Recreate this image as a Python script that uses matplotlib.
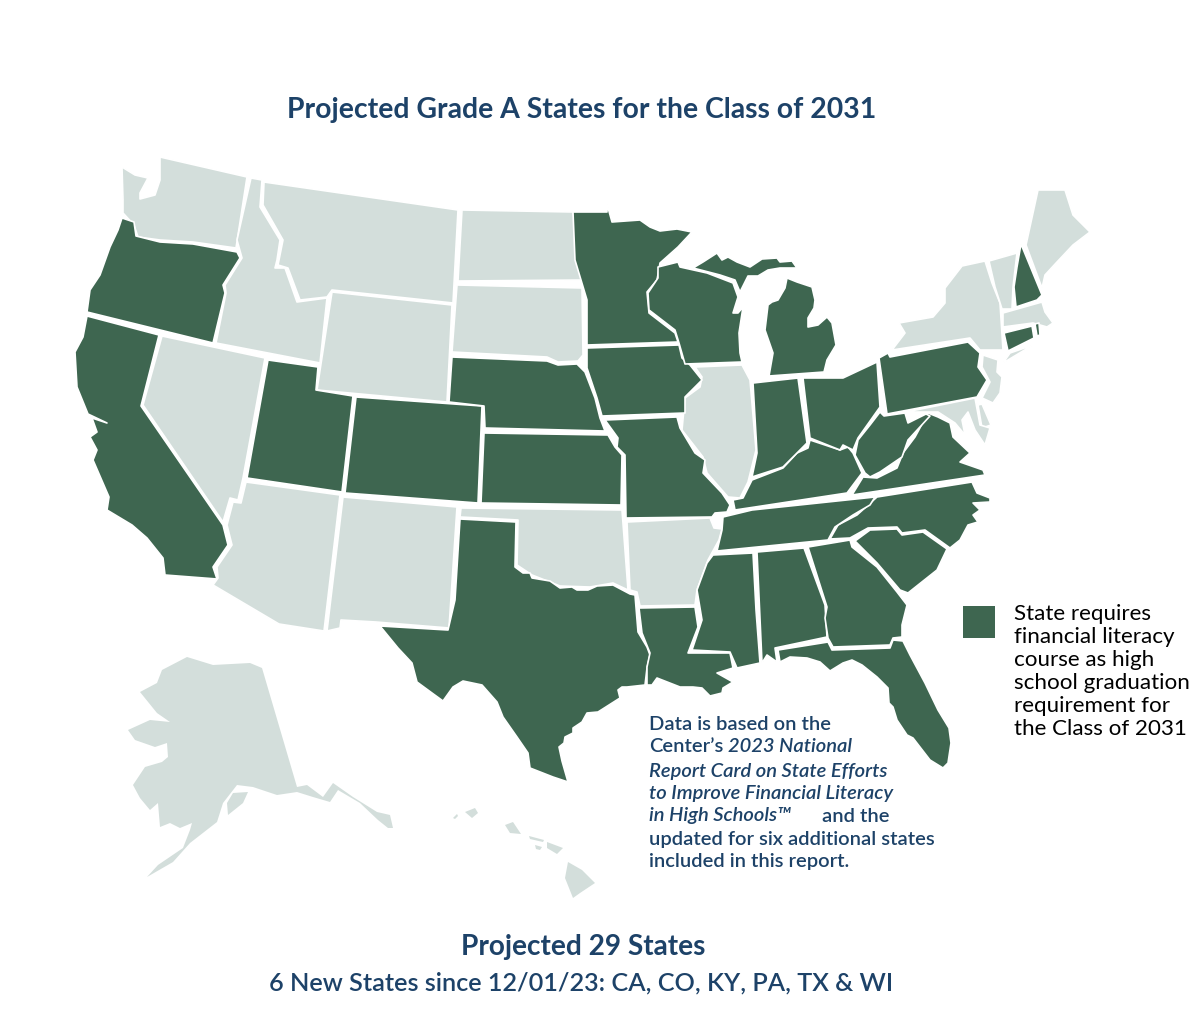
import matplotlib
matplotlib.use("Agg")
import matplotlib.pyplot as plt
from matplotlib.patches import Polygon, Rectangle

plt.rcParams['font.family'] = ['Lato', 'DejaVu Sans']

GREEN = "#3e6650"
GREY = "#d3dedb"
NAVY = "#1d4268"

# state outlines (pixels of the 1200x1017 image)
WA = [(160,157),(247,177),(236,248),(193,242),(160,240),(138,237),(134,225),(123,213),(123,200),(122,167),(135,175),(148,178),(140,193),(140,199),(155,195),(160,180)]
OR = [(122,218),(134,222),(136,236),(160,242),(193,244),(237,252),(240,258),(223,285),(225,293),(213,343),(87,312),(90,290),(100,275),(110,247),(118,230)]
CA = [(87,316),(159,335),(141,406),(223,525),(228,545),(213,567),(217,579),(165,575),(163,558),(147,538),(132,525),(107,510),(109,497),(93,460),(97,450),(90,437),(97,432),(92,418),(107,423),(88,414),(77,387),(75,352),(83,337)]
NV = [(162,336),(265,358),(243,478),(238,500),(230,498),(223,522),(143,405)]
ID = [(251,178),(262,180),(260,207),(280,240),(277,260),(275,268),(285,268),(297,302),(327,298),(320,363),(216,343),(226,293),(225,285),(242,258),(237,240)]
MT = [(264,182),(458,210),(453,303),(332,290),(327,297),(300,300),(288,268),(278,265),(283,240),(263,205)]
WY = [(332,292),(452,305),(447,402),(317,390)]
UT = [(268,360),(318,367),(316,390),(353,396),(342,492),(247,478)]
CO = [(356,397),(482,406),(478,503),(345,493)]
AZ = [(246,482),(340,495),(324,631),(279,624),(213,585),(218,578),(217,567),(232,545),(227,525),(233,502),(241,503)]
NM = [(343,497),(457,507),(449,628),(376,622),(341,620),(340,628),(327,631)]
TX = [(460,519),(516,522),(515,567),(523,573),(530,573),(532,578),(550,581),(560,588),(572,587),(577,590),(588,590),(597,586),(613,585),(630,594),(635,595),(638,632),(647,647),(650,655),(647,668),(645,685),(627,687),(622,687),(618,690),(620,698),(598,712),(587,713),(582,722),(573,728),(573,733),(565,737),(564,743),(559,747),(562,761),(568,782),(553,777),(530,768),(528,753),(517,737),(503,717),(497,702),(482,685),(463,681),(453,687),(443,701),(432,693),(417,682),(412,663),(398,648),(380,626),(448,630),(455,600)]
OK = [(461,508),(622,510),(628,590),(613,583),(590,587),(560,586),(532,575),(517,565),(518,520),(460,517)]
KS = [(484,433),(608,435),(615,447),(622,455),(621,505),(481,503)]
NE = [(452,357),(547,361),(558,365),(577,364),(585,372),(595,398),(600,418),(605,431),(485,428),(484,406),(449,402)]
SD = [(457,285),(582,288),(583,355),(578,361),(558,362),(547,357),(452,352)]
ND = [(462,210),(573,212),(585,280),(458,281)]
MN = [(573,212),(607,212),(607,204),(612,222),(640,220),(650,227),(660,231),(677,229),(692,232),(678,247),(660,263),(657,280),(647,292),(649,313),(675,333),(678,342),(587,345),(587,300),(575,260)]
IA = [(587,348),(679,345),(682,358),(690,365),(702,380),(685,397),(685,413),(602,416),(597,398),(587,368)]
MO = [(605,420),(677,417),(680,428),(695,453),(705,460),(703,473),(722,493),(730,505),(727,512),(715,513),(712,517),(626,518),(625,455),(617,447),(618,438)]
AR = [(627,522),(710,518),(714,528),(722,529),(719,540),(708,560),(697,590),(695,605),(640,606),(637,592),(630,590)]
LA = [(639,608),(695,607),(698,627),(688,653),(730,653),(733,668),(717,673),(733,682),(723,688),(722,693),(710,696),(702,688),(693,687),(680,687),(657,678),(652,685),(647,685),(647,667),(650,653),(642,633)]
MS = [(713,555),(753,553),(756,610),(760,663),(737,668),(730,652),(692,650),(702,620),(697,590),(707,563)]
AL = [(757,552),(804,548),(825,605),(827,637),(775,648),(777,662),(767,655),(762,663)]
GA = [(808,547),(850,540),(852,547),(877,567),(897,592),(907,605),(902,625),(902,637),(893,638),(890,645),(833,647),(828,638),(825,618),(827,607)]
FL = [(778,650),(828,642),(832,650),(890,648),(893,640),(903,641),(910,655),(925,683),(938,710),(949,728),(951,743),(948,763),(943,768),(930,760),(913,738),(907,735),(897,720),(893,707),(889,703),(888,688),(877,677),(862,665),(852,660),(843,663),(830,671),(820,662),(807,658),(790,657),(780,662)]
SC = [(855,541),(870,530),(897,529),(902,535),(923,532),(947,549),(937,570),(908,593),(900,590),(877,563)]
NC = [(877,497),(972,482),(977,493),(990,498),(990,502),(973,503),(980,510),(973,515),(978,522),(968,525),(960,540),(950,548),(925,530),(902,533),(897,527),(868,528),(850,538),(830,539),(838,525),(857,515)]
TN = [(723,517),(752,510),(875,497),(870,505),(853,515),(835,527),(828,540),(717,551),(722,530)]
KY = [(752,480),(783,468),(797,453),(808,448),(810,440),(840,450),(848,447),(853,453),(862,473),(847,493),(755,507),(735,510),(733,500),(743,498)]
VA = [(852,495),(863,477),(877,478),(897,468),(903,453),(915,437),(928,413),(938,417),(950,423),(953,437),(970,453),(960,462),(983,470),(985,475)]
WV = [(855,455),(858,440),(870,425),(880,412),(884,416),(905,413),(908,423),(926,414),(930,416),(908,440),(902,457),(880,472),(870,477),(865,473)]
OH = [(803,378),(843,378),(877,362),(880,407),(858,438),(853,450),(843,445),(840,450),(810,438)]
IN = [(753,383),(798,378),(807,443),(797,453),(783,467),(752,477),(757,453)]
IL = [(695,367),(742,365),(750,380),(756,450),(748,482),(740,498),(728,497),(707,473),(703,457),(682,430),(685,398),(700,387),(702,377)]
WI = [(658,267),(678,262),(680,267),(707,273),(733,283),(738,297),(733,313),(738,313),(743,307),(739,333),(740,353),(742,362),(685,364),(679,343),(675,330),(649,310),(648,293),(658,278)]
MI_UPPER = [(693,268),(703,262),(717,253),(722,260),(728,257),(737,262),(750,267),(762,259),(777,258),(780,262),(792,261),(797,268),(780,268),(768,270),(758,276),(748,276),(740,292),(735,280),(720,275)]
MI_LOWER = [(787,278),(797,282),(812,287),(815,300),(814,308),(808,318),(808,327),(818,325),(827,317),(832,323),(836,345),(827,360),(824,372),(769,376),(773,353),(765,330),(768,305),(772,302),(778,300),(785,288)]
PA = [(879,358),(888,353),(890,357),(968,342),(980,353),(978,367),(987,380),(977,397),(887,414)]
NY = [(892,350),(905,333),(899,323),(933,317),(945,303),(945,288),(962,266),(985,261),(992,283),(1000,303),(1003,350),(980,350),(970,338)]
NY_LI = [(1003,363),(1033,345),(1010,353)]
VT = [(989,261),(1017,253),(1013,287),(1012,309),(1002,309),(995,287)]
NH = [(1021,244),(1042,295),(1037,300),(1016,307),(1014,287),(1017,267)]
ME = [(1038,190),(1065,190),(1073,215),(1090,232),(1073,245),(1057,262),(1045,275),(1042,288),(1026,245),(1033,213)]
MA = [(1003,313),(1042,302),(1045,312),(1053,323),(1047,327),(1033,323),(1003,327)]
CT = [(1004,333),(1032,326),(1034,338),(1008,351)]
RI = [(1035,324),(1039,323),(1040,335),(1037,336)]
NJ = [(983,355),(998,360),(997,372),(1002,377),(1000,393),(993,403),(982,398),(990,382),(982,367)]
DE = [(978,405),(982,404),(991,425),(982,428)]
MD = [(906,412),(975,398),(980,425),(990,428),(985,445),(975,430),(968,412),(962,420),(965,435),(955,423),(938,412)]
AK = [(262,668),(297,787),(307,785),(323,797),(333,783),(353,797),(377,812),(390,815),(393,828),(388,828),(378,820),(360,803),(338,790),(330,802),(313,797),(297,792),(277,795),(253,787),(237,785),(223,803),(217,822),(190,843),(173,862),(147,877),(158,865),(183,848),(190,830),(192,823),(180,828),(170,823),(160,827),(158,803),(150,810),(140,798),(133,785),(145,767),(162,762),(168,757),(167,743),(155,747),(135,740),(128,730),(150,720),(170,722),(157,713),(140,692),(157,683),(162,670),(187,657),(213,665),(250,663)]
AK_KENAI = [(233,793),(248,792),(243,803),(228,815),(227,803)]
HI_BIG = [(568,862),(582,870),(595,883),(580,893),(573,898),(565,878)]
HI_MAUI = [(547,842),(563,848),(557,854),(547,848)]
HI_MOLOKAI = [(529,836),(544,840),(543,842),(530,839)]
HI_LANAI = [(535,845),(542,847),(540,850),(536,849)]
HI_OAHU = [(505,825),(513,822),(521,834),(510,833)]
HI_KAUAI = [(465,812),(475,808),(478,813),(472,818)]
HI_NIIHAU = [(453,818),(457,814),(458,816),(455,819)]

grade_a_states = [OR, CA, UT, CO, TX, KS, NE, MN, IA, MO, LA, MS, AL, GA, FL, SC, NC, TN, KY, VA, WV,
                  OH, IN, WI, MI_UPPER, MI_LOWER, PA, NH, CT, RI]
other_states = [WA, NV, ID, MT, WY, AZ, NM, OK, SD, ND, AR, IL, NY, NY_LI, VT, ME, MA, NJ, DE, MD]
no_border_shapes = [AK, AK_KENAI, HI_BIG, HI_MAUI, HI_MOLOKAI, HI_LANAI, HI_OAHU, HI_KAUAI, HI_NIIHAU]

title = "Projected Grade A States for the Class of 2031"
legend_lines = ["State requires", "financial literacy", "course as high",
                "school graduation", "requirement for", "the Class of 2031"]
bottom_head = "Projected 29 States"
bottom_sub = "6 New States since 12/01/23: CA, CO, KY, PA, TX & WI"

fig = plt.figure(figsize=(12, 10.17), dpi=100)
ax = fig.add_axes([0, 0, 1, 1])
ax.set_xlim(0, 1200)
ax.set_ylim(1017, 0)
ax.axis("off")

for shape in other_states:
    ax.add_patch(Polygon(shape, closed=True, fc=GREY, ec="white", lw=1.2, joinstyle="round"))
for shape in grade_a_states:
    ax.add_patch(Polygon(shape, closed=True, fc=GREEN, ec="white", lw=1.2, joinstyle="round"))
for shape in no_border_shapes:
    ax.add_patch(Polygon(shape, closed=True, fc=GREY, ec="none"))

ax.text(582, 110, title, ha="center", va="center", fontsize=20.4, fontweight="bold", color=NAVY)
ax.text(583, 947, bottom_head, ha="center", va="center", fontsize=20.2, fontweight="bold", color=NAVY)
ax.text(581, 983, bottom_sub, ha="center", va="center", fontsize=18.2, fontweight="semibold", color=NAVY)

# legend
ax.add_patch(Rectangle((963, 606), 32, 32, fc=GREEN, ec="none"))
for i, line in enumerate(legend_lines):
    ax.text(1014, 614 + i * 23, line, ha="left", va="center", fontsize=16.1, color="black")

# note, some lines have an italic part
note_size = 14.5
ax.text(649, 724, "Data is based on the", va="center", fontsize=note_size, color=NAVY, fontweight="semibold")
ax.text(649, 747, "Center\u2019s", va="center", fontsize=note_size, color=NAVY, fontweight="semibold")
ax.text(728, 747, "2023 National", va="center", fontsize=note_size, color=NAVY, style="italic", fontweight="semibold")
ax.text(649, 771, "Report Card on State Efforts", va="center", fontsize=note_size, color=NAVY, style="italic", fontweight="semibold")
ax.text(649, 793, "to Improve Financial Literacy", va="center", fontsize=note_size, color=NAVY, style="italic", fontweight="semibold")
ax.text(649, 816, "in High Schools\u2122", va="center", fontsize=note_size, color=NAVY, style="italic", fontweight="semibold")
ax.text(822, 816, "and the", va="center", fontsize=note_size, color=NAVY, fontweight="semibold")
ax.text(649, 839, "updated for six additional states", va="center", fontsize=note_size, color=NAVY, fontweight="semibold")
ax.text(649, 862, "included in this report.", va="center", fontsize=note_size, color=NAVY, fontweight="semibold")

fig.savefig("out.png", dpi=100, facecolor="white")
